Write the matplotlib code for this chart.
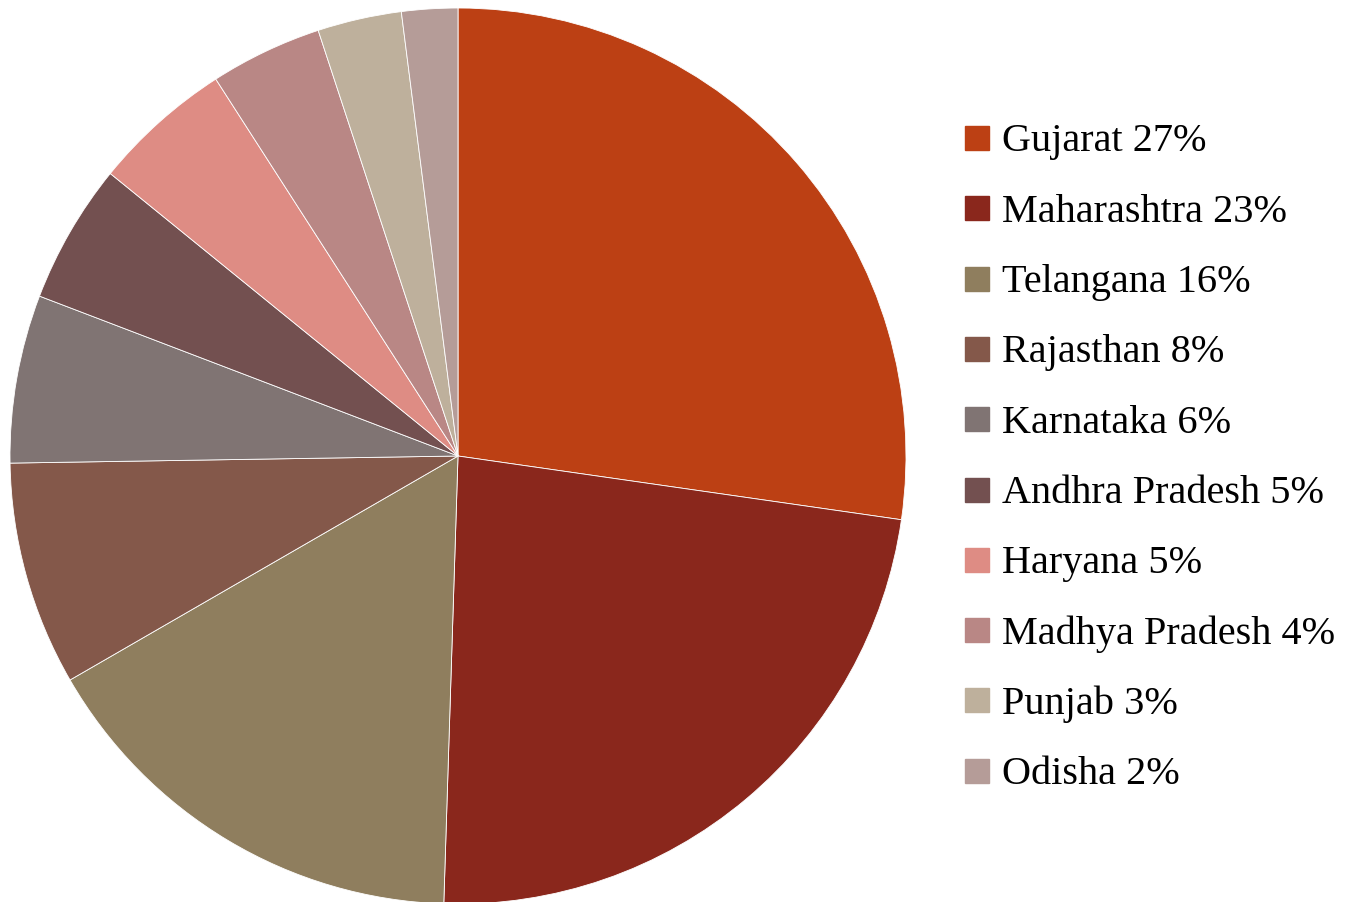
import matplotlib.pyplot as plt
from matplotlib.patches import Rectangle

# dati del grafico
stati = ['Gujarat', 'Maharashtra', 'Telangana', 'Rajasthan', 'Karnataka',
         'Andhra Pradesh', 'Haryana', 'Madhya Pradesh', 'Punjab', 'Odisha']
quote = [27, 23, 16, 8, 6, 5, 5, 4, 3, 2]
colori = ['#BC4014', '#8A271C', '#8F7E5E', '#84584A', '#807473',
          '#735050', '#DE8C84', '#B98785', '#BEB09C', '#B59C98']

W, H = 1362, 903
fig = plt.figure(figsize=(W / 100, H / 100), dpi=100)

# torta: centro (458,457), raggio ~448 px
cx, cy, r = 458, 457, 448
ax = fig.add_axes([(cx - r) / W, (H - cy - r) / H, 2 * r / W, 2 * r / H])
ax.pie(quote, colors=colori, startangle=90, counterclock=False, radius=1,
       wedgeprops=dict(edgecolor='white', linewidth=0.6))
ax.set_xlim(-1, 1)
ax.set_ylim(-1, 1)
ax.set_aspect('equal')
ax.axis('off')

# legenda a mano
y0, passo = 139, 70.3
for i, (s, q, c) in enumerate(zip(stati, quote, colori)):
    y = y0 + i * passo
    fig.add_artist(Rectangle((965 / W, (H - y - 12) / H), 24 / W, 24 / H,
                             transform=fig.transFigure, color=c))
    fig.text(1002 / W, (H - y - 3) / H, '{} {}%'.format(s, q), va='center', ha='left',
             fontsize=29, family='Liberation Serif', color='black')

fig.savefig('out.png', dpi=100)
